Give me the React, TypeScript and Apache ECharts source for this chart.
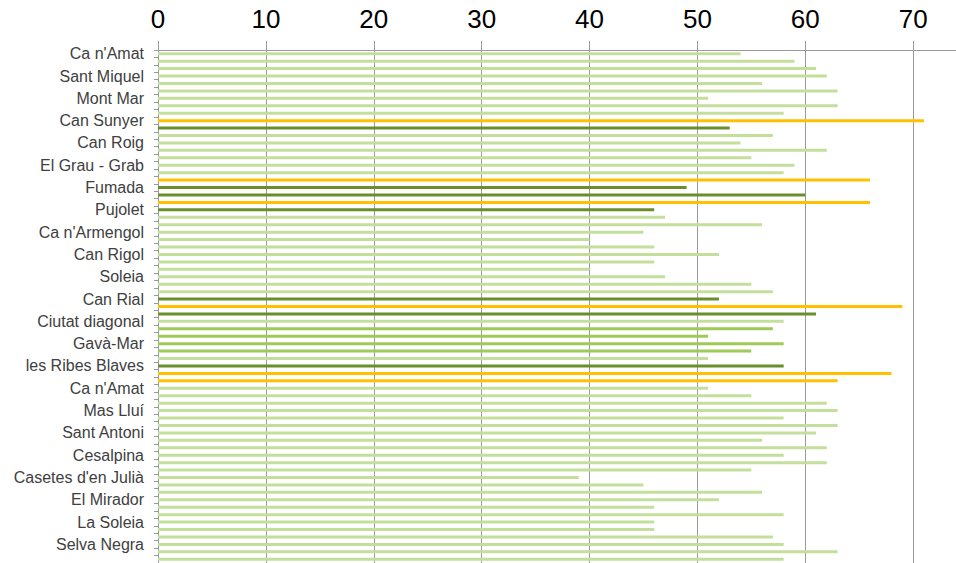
import React, { useEffect, useRef } from "react";
import * as echarts from "echarts";

// Labels shown on the category axis (one every third bar, top to bottom)
const groupLabels = [
  "Ca n'Amat", "Sant Miquel", "Mont Mar", "Can Sunyer", "Can Roig", "El Grau - Grab",
  "Fumada", "Pujolet", "Ca n'Armengol", "Can Rigol", "Soleia", "Can Rial",
  "Ciutat diagonal", "Gavà-Mar", "les Ribes Blaves", "Ca n'Amat", "Mas Lluí",
  "Sant Antoni", "Cesalpina", "Casetes d'en Julià", "El Mirador", "La Soleia", "Selva Negra",
];

// Bar values, top to bottom
const values = [
  54, 59, 61, 62, 56, 63, 51, 63, 58,
  71, 53, 57, 54, 62, 55, 59, 58, 66,
  49, 60, 66, 46, 47, 56, 45, 40, 46,
  52, 46, 40, 47, 55, 57, 52, 69, 61,
  58, 57, 51, 58, 55, 51, 58, 68, 63,
  51, 55, 62, 63, 58, 63, 61, 56, 62,
  58, 62, 55, 39, 45, 56, 52, 46, 58,
  46, 46, 57, 58, 63, 58,
];

// Colour class of each bar: L light green, M medium green, D dark green, O orange
const colorKeys = [
  "L", "L", "L", "L", "L", "L", "L", "L", "L",
  "O", "D", "L", "L", "L", "L", "L", "L", "O",
  "D", "D", "O", "D", "L", "L", "L", "L", "L",
  "L", "L", "L", "L", "L", "L", "D", "O", "D",
  "L", "M", "M", "M", "M", "L", "D", "O", "O",
  "L", "L", "L", "L", "L", "L", "L", "L", "L",
  "L", "L", "L", "L", "L", "L", "L", "L", "L",
  "L", "L", "L", "L", "L", "L",
];

const xTicks = [0, 10, 20, 30, 40, 50, 60, 70];

const palette: Record<string, string> = {
  L: "#c4df9b",
  M: "#9fca58",
  D: "#6b8e2c",
  O: "#ffc000",
};

export default function App() {
  const ref = useRef<HTMLDivElement>(null);

  useEffect(() => {
    if (!ref.current) return;
    const chart = echarts.init(ref.current, undefined, { renderer: "svg" });
    const categories = values.map((_, i) => (i % 3 === 0 ? groupLabels[i / 3] : ""));
    chart.setOption({
      animation: false,
      grid: {
        left: 158,
        top: 50,
        right: 9,
        bottom: 0,
        containLabel: false,
        outerBoundsMode: "none",
      },
      xAxis: {
        type: "value",
        position: "top",
        min: 0,
        max: 80,
        interval: 10,
        axisLine: { show: true, lineStyle: { color: "#9a9a9a", width: 1 } },
        axisTick: { show: true, length: 9, lineStyle: { color: "#9a9a9a" } },
        axisLabel: {
          color: "#000",
          fontSize: 26,
          fontFamily: "Liberation Sans, Arial, sans-serif",
          margin: 18,
          formatter: (v: number) => (xTicks.includes(v) ? String(v) : ""),
        },
        splitLine: { show: true, lineStyle: { color: "#9a9a9a", width: 1 } },
      },
      yAxis: {
        type: "category",
        inverse: true,
        data: categories,
        boundaryGap: true,
        axisLine: { show: true, lineStyle: { color: "#9a9a9a", width: 1 } },
        axisTick: { show: true, length: 4, interval: 0, lineStyle: { color: "#9a9a9a" } },
        axisLabel: {
          interval: 2,
          color: "#404040",
          fontSize: 16,
          fontFamily: "Liberation Sans, Arial, sans-serif",
          margin: 14,
        },
        splitLine: { show: false },
      },
      series: [
        {
          type: "bar",
          data: values.map((v, i) => ({
            value: v,
            itemStyle: { color: palette[colorKeys[i]] },
          })),
          barWidth: 3,
        },
      ],
    });
    return () => chart.dispose();
  }, []);

  return (
    <div
      style={{
        position: "fixed",
        left: 0,
        top: 0,
        width: 956,
        height: 563,
        overflow: "hidden",
        background: "#fff",
      }}
    >
      <div ref={ref} style={{ width: 1030, height: 563 }} />
    </div>
  );
}
